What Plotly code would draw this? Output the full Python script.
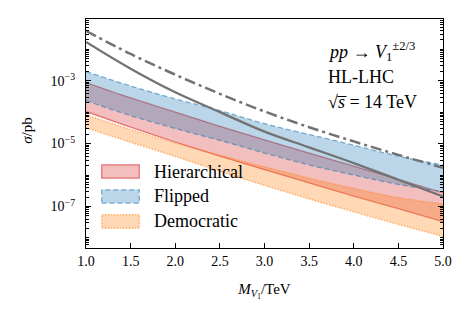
import plotly.graph_objects as go

# ---- data (sigma in pb) ----
mass = [1.0, 1.5, 2.0, 2.5, 3.0, 3.5, 4.0, 4.5, 5.0]

hier_upper = [8.71e-4, 2.82e-4, 1.00e-4, 3.55e-5, 1.32e-5, 5.01e-6, 1.91e-6, 7.24e-7, 2.69e-7]
hier_lower = [1.05e-4, 3.31e-5, 1.12e-5, 3.98e-6, 1.48e-6, 5.62e-7, 2.14e-7, 8.51e-8, 3.31e-8]

flip_upper = [1.95e-3, 6.76e-4, 2.63e-4, 1.12e-4, 4.27e-5, 1.95e-5, 8.91e-6, 3.98e-6, 2.09e-6]
flip_lower = [2.29e-4, 7.76e-5, 3.02e-5, 1.26e-5, 5.01e-6, 2.09e-6, 1.00e-6, 5.01e-7, 2.95e-7]

demo_upper = [8.13e-5, 2.82e-5, 1.05e-5, 4.27e-6, 1.82e-6, 7.94e-7, 3.72e-7, 1.91e-7, 1.20e-7]
demo_lower = [3.16e-5, 1.10e-5, 3.89e-6, 1.32e-6, 4.68e-7, 1.74e-7, 6.76e-8, 2.69e-8, 1.12e-8]

limit_solid = [1.70e-2, 2.40e-3, 4.27e-4, 1.00e-4, 2.40e-5, 7.59e-6, 2.40e-6, 7.08e-7, 2.09e-7]
limit_dashdot = [3.80e-2, 7.08e-3, 1.55e-3, 3.80e-4, 1.05e-4, 3.31e-5, 1.17e-5, 4.37e-6, 1.70e-6]

x_ticks = [1.0, 1.5, 2.0, 2.5, 3.0, 3.5, 4.0, 4.5, 5.0]
y_major = [1e-7, 1e-5, 1e-3]
y_major_text = ["10<sup>−7</sup>", "10<sup>−5</sup>", "10<sup>−3</sup>"]

legend_names = ["Hierarchical", "Flipped", "Democratic"]

RED = "214,39,40"
BLUE = "31,119,180"
ORANGE = "255,127,14"
FONT = "Liberation Serif"

# page has an 8px body margin: figure is placed at (8,8) in the window
OFF = 8
PL, PR, PT, PB = 86, 443, 19, 248.3  # plot area in window pixels
FIG_W, FIG_H = 473 - 2 * OFF, 316 - 2 * OFF


def px(xw):
    return (xw - PL) / (PR - PL)


def py(yw):
    return (PB - yw) / (PB - PT)


fig = go.Figure()


def band(lower, upper, rgb, dash, width):
    fig.add_trace(go.Scatter(x=mass, y=lower, mode="lines", line_shape="spline",
                             line=dict(color=f"rgba({rgb},0.55)", width=width, dash=dash),
                             showlegend=False, hoverinfo="skip"))
    fig.add_trace(go.Scatter(x=mass, y=upper, mode="lines", line_shape="spline",
                             fill="tonexty", fillcolor=f"rgba({rgb},0.3)",
                             line=dict(color=f"rgba({rgb},0.55)", width=width, dash=dash),
                             showlegend=False, hoverinfo="skip"))


band(hier_lower, hier_upper, RED, "solid", 1.3)
band(flip_lower, flip_upper, BLUE, "5px,3px", 1.3)
band(demo_lower, demo_upper, ORANGE, "1.5px,1.5px", 1.5)

fig.add_trace(go.Scatter(x=mass, y=limit_solid, mode="lines", line_shape="spline",
                         line=dict(color="#737373", width=2.3), showlegend=False))
fig.add_trace(go.Scatter(x=mass, y=limit_dashdot, mode="lines", line_shape="spline",
                         line=dict(color="#737373", width=2.5, dash="11px,4px,3px,4px"),
                         showlegend=False))

# minor ticks for log y axis
minor_vals = []
for n in range(-9, 0):
    for k in range(1, 10):
        v = float(f"{k}e{n}")
        if v not in y_major:
            minor_vals.append(v)

fig.update_layout(
    width=FIG_W, height=FIG_H,
    margin=dict(l=PL - OFF, r=FIG_W - (PR - OFF), t=PT - OFF, b=FIG_H - (PB - OFF)),
    paper_bgcolor="white", plot_bgcolor="white",
    font=dict(family=FONT, color="black", size=14),
    showlegend=False,
    xaxis=dict(range=[1.0, 5.0], tickvals=x_ticks, ticktext=[f"{v:.1f}" for v in x_ticks],
               ticks="inside", ticklen=5, tickwidth=1.2, tickcolor="black",
               showline=True, linecolor="black", linewidth=1.3, mirror=True,
               showgrid=False, zeroline=False, automargin=False,
               tickfont=dict(family=FONT, size=14),
               title=dict(text="<i>M</i><sub><i>V</i><sub>1</sub></sub>/TeV",
                          font=dict(family=FONT, size=15), standoff=15)),
    yaxis=dict(type="log", range=[-8.32, -1.04], tickvals=y_major, ticktext=y_major_text,
               ticks="inside", ticklen=5, tickwidth=1.2, tickcolor="black",
               showline=True, linecolor="black", linewidth=1.3, mirror="ticks",
               showgrid=False, zeroline=False, automargin=False,
               ticklabelstandoff=7,
               minor=dict(tickmode="array", tickvals=minor_vals, ticks="inside",
                          ticklen=3, tickwidth=1, tickcolor="black", showgrid=False),
               tickfont=dict(family=FONT, size=14)),
)

# y-axis title
fig.add_annotation(text="<i>σ</i>/pb", xref="paper", yref="paper",
                   x=px(27), y=py(131), xanchor="center", yanchor="middle",
                   textangle=-90, showarrow=False, font=dict(family=FONT, size=15))

# text block top right
ann_lines = ["<i>pp</i> → <i>V</i><sub>1</sub><sup>±2/3</sup>",
             "HL-LHC",
             "√<i>s\u0305</i> = 14 TeV"]
ann_y = [52, 77, 102]
for txt, yp in zip(ann_lines, ann_y):
    fig.add_annotation(text=txt, xref="paper", yref="paper",
                       x=px(326), y=py(yp),
                       xanchor="left", yanchor="middle", showarrow=False,
                       font=dict(family=FONT, size=18))

# manual legend
leg_style = [(RED, "solid", 1.3), (BLUE, "5px,3px", 1.3), (ORANGE, "1.5px,1.5px", 1.5)]
leg_y = [171.7, 196.7, 221.7]
for name, (rgb, dash, w), yc in zip(legend_names, leg_style, leg_y):
    fig.add_shape(type="rect", xref="paper", yref="paper",
                  x0=px(101.7), x1=px(139.3), y0=py(yc + 6.7), y1=py(yc - 6.7),
                  fillcolor=f"rgba({rgb},0.3)",
                  line=dict(color=f"rgba({rgb},0.55)", width=w, dash=dash))
    fig.add_annotation(text=name, xref="paper", yref="paper",
                       x=px(152), y=py(yc),
                       xanchor="left", yanchor="middle", showarrow=False,
                       font=dict(family=FONT, size=18))

fig.write_html("out.html")
